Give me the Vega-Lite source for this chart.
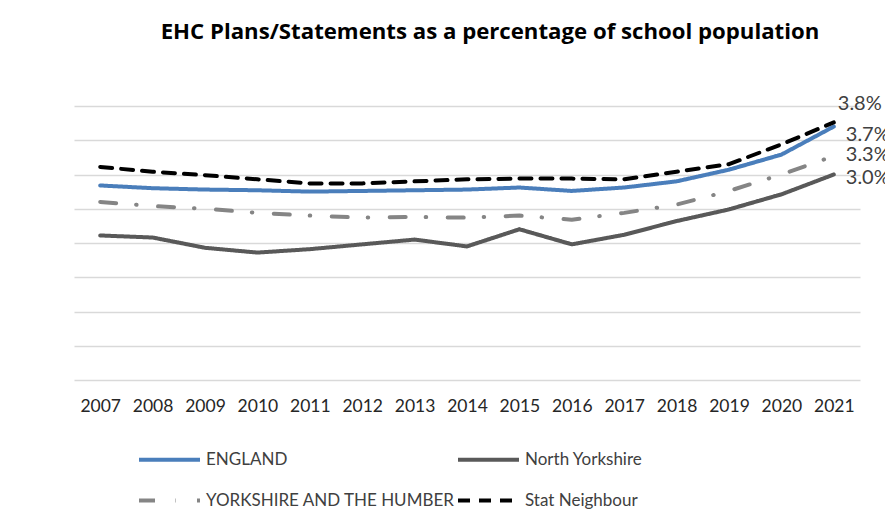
{
  "$schema": "https://vega.github.io/schema/vega-lite/v6.json",
  "width": 786,
  "height": 274,
  "autosize": {"type": "none"},
  "padding": {"left": 74, "top": 106, "right": 25, "bottom": 140},
  "background": "white",
  "title": {
    "text": "EHC Plans/Statements as a percentage of school population",
    "font": "Open Sans",
    "fontSize": 22.2,
    "fontWeight": "bold",
    "color": "#000000",
    "anchor": "middle",
    "dx": 23,
    "offset": 51
  },
  "data": {
    "values": [
      {"year": 2007, "ENGLAND": 0.0284, "North Yorkshire": 0.0211, "YORKSHIRE AND THE HUMBER": 0.0260, "Stat Neighbour": 0.0311},
      {"year": 2008, "ENGLAND": 0.0280, "North Yorkshire": 0.0208, "YORKSHIRE AND THE HUMBER": 0.0254, "Stat Neighbour": 0.0304},
      {"year": 2009, "ENGLAND": 0.0278, "North Yorkshire": 0.0193, "YORKSHIRE AND THE HUMBER": 0.0250, "Stat Neighbour": 0.0299},
      {"year": 2010, "ENGLAND": 0.0277, "North Yorkshire": 0.0186, "YORKSHIRE AND THE HUMBER": 0.0244, "Stat Neighbour": 0.0293},
      {"year": 2011, "ENGLAND": 0.0275, "North Yorkshire": 0.0191, "YORKSHIRE AND THE HUMBER": 0.0240, "Stat Neighbour": 0.0287},
      {"year": 2012, "ENGLAND": 0.0276, "North Yorkshire": 0.0198, "YORKSHIRE AND THE HUMBER": 0.0237, "Stat Neighbour": 0.0287},
      {"year": 2013, "ENGLAND": 0.0277, "North Yorkshire": 0.0205, "YORKSHIRE AND THE HUMBER": 0.0238, "Stat Neighbour": 0.0290},
      {"year": 2014, "ENGLAND": 0.0278, "North Yorkshire": 0.0195, "YORKSHIRE AND THE HUMBER": 0.0237, "Stat Neighbour": 0.0293},
      {"year": 2015, "ENGLAND": 0.0281, "North Yorkshire": 0.0220, "YORKSHIRE AND THE HUMBER": 0.0240, "Stat Neighbour": 0.0294},
      {"year": 2016, "ENGLAND": 0.0276, "North Yorkshire": 0.0198, "YORKSHIRE AND THE HUMBER": 0.0234, "Stat Neighbour": 0.0294},
      {"year": 2017, "ENGLAND": 0.0281, "North Yorkshire": 0.0212, "YORKSHIRE AND THE HUMBER": 0.0244, "Stat Neighbour": 0.0293},
      {"year": 2018, "ENGLAND": 0.0290, "North Yorkshire": 0.0232, "YORKSHIRE AND THE HUMBER": 0.0256, "Stat Neighbour": 0.0304},
      {"year": 2019, "ENGLAND": 0.0307, "North Yorkshire": 0.0249, "YORKSHIRE AND THE HUMBER": 0.0276, "Stat Neighbour": 0.0315},
      {"year": 2020, "ENGLAND": 0.0329, "North Yorkshire": 0.0271, "YORKSHIRE AND THE HUMBER": 0.0300, "Stat Neighbour": 0.0344},
      {"year": 2021, "ENGLAND": 0.0370, "North Yorkshire": 0.0300, "YORKSHIRE AND THE HUMBER": 0.0327, "Stat Neighbour": 0.0376}
    ]
  },
  "transform": [
    {"fold": ["ENGLAND", "North Yorkshire", "YORKSHIRE AND THE HUMBER", "Stat Neighbour"], "as": ["series", "value"]}
  ],
  "encoding": {
    "x": {
      "field": "year",
      "type": "ordinal",
      "scale": {"type": "point", "padding": 0.5},
      "axis": {
        "title": null,
        "labelAngle": 0,
        "domain": false,
        "ticks": false,
        "grid": false,
        "labelFont": "Lato",
        "labelFontSize": 17.5,
        "labelColor": "#262626",
        "labelPadding": 17
      }
    },
    "y": {
      "field": "value",
      "type": "quantitative",
      "scale": {"domain": [0, 0.04], "nice": false},
      "axis": {
        "title": null,
        "labels": false,
        "domain": false,
        "ticks": false,
        "grid": true,
        "gridColor": "#d9d9d9",
        "gridWidth": 1.5,
        "values": [0, 0.005, 0.01, 0.015, 0.02, 0.025, 0.03, 0.035, 0.04]
      }
    }
  },
  "layer": [
    {
      "mark": {"type": "line", "strokeCap": "round", "strokeJoin": "round"},
      "encoding": {
        "stroke": {
          "field": "series",
          "type": "nominal",
          "scale": {
            "domain": ["ENGLAND", "North Yorkshire", "YORKSHIRE AND THE HUMBER", "Stat Neighbour"],
            "range": ["#4a7ebb", "#595959", "#858585", "#000000"]
          },
          "legend": {
            "title": null,
            "orient": "none",
            "direction": "horizontal",
            "legendX": 63,
            "legendY": 321,
            "columns": 2,
            "symbolType": "stroke",
            "symbolSize": 3721,
            "symbolStrokeWidth": 4,
            "labelFont": "Lato",
            "labelFontSize": 17,
            "labelColor": "#404040",
            "labelOffset": 4,
            "labelLimit": 400,
            "rowPadding": -4,
            "columnPadding": -5
          }
        },
        "strokeDash": {
          "field": "series",
          "type": "nominal",
          "scale": {
            "domain": ["ENGLAND", "North Yorkshire", "YORKSHIRE AND THE HUMBER", "Stat Neighbour"],
            "range": [[1, 0], [1, 0], [16, 20, 0.5, 21.5], [12, 9]]
          }
        },
        "strokeWidth": {
          "field": "series",
          "type": "nominal",
          "scale": {
            "domain": ["ENGLAND", "North Yorkshire", "YORKSHIRE AND THE HUMBER", "Stat Neighbour"],
            "range": [4, 4, 4, 5]
          }
        }
      }
    },
    {
      "transform": [{"filter": "datum.year == 2021 && datum.series == 'Stat Neighbour'"}],
      "mark": {"type": "text", "align": "left", "baseline": "middle", "dx": 4, "dy": -18, "font": "Lato", "fontSize": 20, "color": "#404040"},
      "encoding": {"text": {"field": "value", "type": "quantitative", "format": ".1%"}}
    },
    {
      "transform": [{"filter": "datum.year == 2021 && datum.series == 'ENGLAND'"}],
      "mark": {"type": "text", "align": "left", "baseline": "middle", "dx": 12, "dy": 8, "font": "Lato", "fontSize": 20, "color": "#404040"},
      "encoding": {"text": {"field": "value", "type": "quantitative", "format": ".1%"}}
    },
    {
      "transform": [{"filter": "datum.year == 2021 && datum.series == 'YORKSHIRE AND THE HUMBER'"}],
      "mark": {"type": "text", "align": "left", "baseline": "middle", "dx": 12, "dy": -1.5, "font": "Lato", "fontSize": 20, "color": "#404040"},
      "encoding": {"text": {"field": "value", "type": "quantitative", "format": ".1%"}}
    },
    {
      "transform": [{"filter": "datum.year == 2021 && datum.series == 'North Yorkshire'"}],
      "mark": {"type": "text", "align": "left", "baseline": "middle", "dx": 12, "dy": 3, "font": "Lato", "fontSize": 20, "color": "#404040"},
      "encoding": {"text": {"field": "value", "type": "quantitative", "format": ".1%"}}
    }
  ],
  "config": {
    "view": {"stroke": null},
    "font": "Lato"
  }
}
